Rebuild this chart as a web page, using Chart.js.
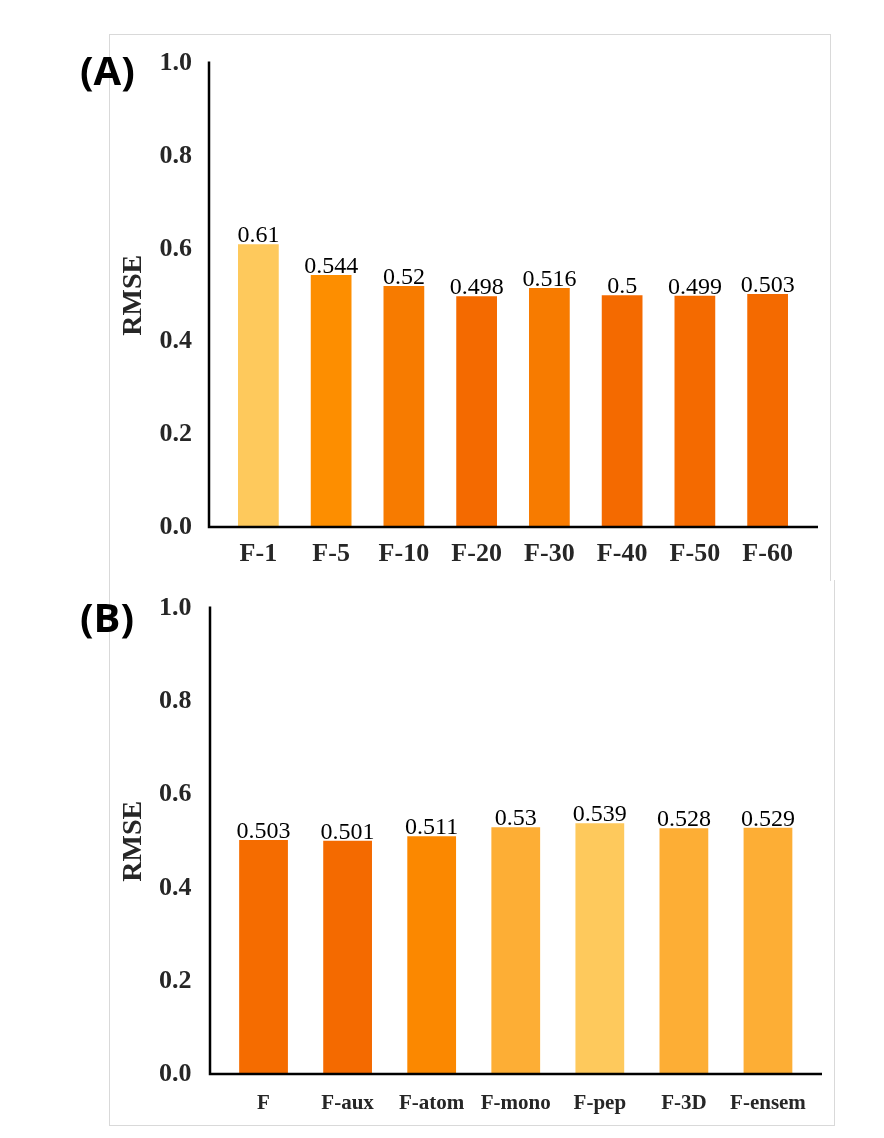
<!DOCTYPE html>
<html>
<head>
<meta charset="utf-8">
<title>RMSE</title>
<script src="https://cdn.jsdelivr.net/npm/chart.js@4/dist/chart.umd.min.js"></script>
<style>
  body { margin: 0; background: #fff; width: 884px; height: 1138px; position: relative; overflow: hidden; }
  .frame { position: absolute; border: 1px solid #d9d9d9; }
  #frameA { left: 109px; top: 34px; width: 720px; height: 546px; border-bottom: none; }
  #frameB { left: 109px; top: 580px; width: 724px; height: 545px; border-top: none; }
  canvas { position: absolute; }
  /* the y scale reserves (half label + tick padding) above the plot, so the canvases start a bit higher */
  #chartA { left: 110px; top: 18px; }
  #chartB { left: 110px; top: 563px; }
  .tag { position: absolute; font-family: "Open Sans"; font-weight: 700; font-size: 40px; line-height: 48px; color: #000; }
</style>
</head>
<body>
<div class="frame" id="frameA"></div>
<div class="frame" id="frameB"></div>
<canvas id="chartA" width="720" height="562"></canvas>
<canvas id="chartB" width="724" height="562"></canvas>
<div class="tag" style="left:80px; top:46px;">(A)</div>
<div class="tag" style="left:80px; top:593px;">(B)</div>

<script>
// data
const yTicks = [0, 0.2, 0.4, 0.6, 0.8, 1.0];

const labelsA = ['F-1', 'F-5', 'F-10', 'F-20', 'F-30', 'F-40', 'F-50', 'F-60'];
const rmseA = [0.61, 0.544, 0.52, 0.498, 0.516, 0.5, 0.499, 0.503];

const labelsB = ['F', 'F-aux', 'F-atom', 'F-mono', 'F-pep', 'F-3D', 'F-ensem'];
const rmseB = [0.503, 0.501, 0.511, 0.53, 0.539, 0.528, 0.529];

// bar colours (per bar)
const colorsA = ['#fec95c', '#fd8e00', '#f77b00', '#f46a00', '#f77b00', '#f46a00', '#f46a00', '#f46a00'];
const colorsB = ['#f56c00', '#f46a00', '#fb8800', '#fdae35', '#fec95c', '#fdae35', '#fdae35'];

const serif = 'Liberation Serif';

// black L-shaped axes, slightly wider than the category area (like Excel)
const axisLines = {
  id: 'axisLines',
  afterDatasetsDraw(chart, args, opts) {
    const ctx = chart.ctx;
    const a = chart.chartArea;
    ctx.save();
    ctx.strokeStyle = '#000';
    ctx.lineWidth = 2.5;
    ctx.beginPath();
    ctx.moveTo(a.left - opts.left, a.top - 2);
    ctx.lineTo(a.left - opts.left, a.bottom);
    ctx.lineTo(a.right + opts.right, a.bottom);
    ctx.stroke();
    ctx.restore();
  }
};

// value on top of each bar
const valueLabels = {
  id: 'valueLabels',
  afterDatasetsDraw(chart) {
    const ctx = chart.ctx;
    const meta = chart.getDatasetMeta(0);
    const vals = chart.data.datasets[0].data;
    ctx.save();
    ctx.font = '24px "' + serif + '"';
    ctx.fillStyle = '#000';
    ctx.textAlign = 'center';
    ctx.textBaseline = 'alphabetic';
    meta.data.forEach((bar, i) => {
      ctx.fillText(String(vals[i]), bar.x, bar.y - 2);
    });
    ctx.restore();
  }
};

function makeChart(id, labels, values, colors, cfg) {
  return new Chart(document.getElementById(id), {
    type: 'bar',
    data: {
      labels: labels,
      datasets: [{
        data: values,
        backgroundColor: colors,
        borderWidth: 0,
        categoryPercentage: 1,
        barPercentage: cfg.barPct
      }]
    },
    options: {
      responsive: false,
      animation: false,
      layout: { padding: { left: 0, top: 0, right: cfg.right, bottom: 0 } },
      plugins: {
        legend: { display: false },
        tooltip: { enabled: false },
        axisLines: { left: cfg.lineLeft, right: cfg.lineRight }
      },
      scales: {
        x: {
          afterFit: s => { s.height = cfg.xHeight; },
          grid: { display: false, drawTicks: false },
          border: { display: false },
          ticks: {
            padding: cfg.xPad,
            maxRotation: 0,
            autoSkip: false,
            color: '#262626',
            font: { family: serif, size: cfg.xFont, weight: 'bold' }
          }
        },
        y: {
          min: 0,
          max: 1,
          afterBuildTicks: s => { s.ticks = yTicks.map(v => ({ value: v })); },
          afterFit: s => { s.width = cfg.yWidth; },
          grid: { display: false, drawTicks: false },
          border: { display: false },
          ticks: {
            padding: 30,
            color: '#262626',
            font: { family: serif, size: 26, weight: 'bold' },
            callback: v => Number(v).toFixed(1)
          },
          title: {
            display: true,
            text: 'RMSE',
            color: '#262626',
            padding: { top: 7, bottom: 0 },
            font: { family: serif, size: 28, weight: 'bold' }
          }
        }
      }
    },
    plugins: [axisLines, valueLabels]
  });
}

makeChart('chartA', labelsA, rmseA, colorsA, {
  barPct: 0.56, right: 26, xHeight: 53, xPad: 12, xFont: 26,
  yWidth: 112, lineLeft: 13, lineRight: 14
});

makeChart('chartB', labelsB, rmseB, colorsB, {
  barPct: 0.58, right: 24, xHeight: 51, xPad: 17, xFont: 21,
  yWidth: 111.5, lineLeft: 11.5, lineRight: 12
});
</script>
</body>
</html>
